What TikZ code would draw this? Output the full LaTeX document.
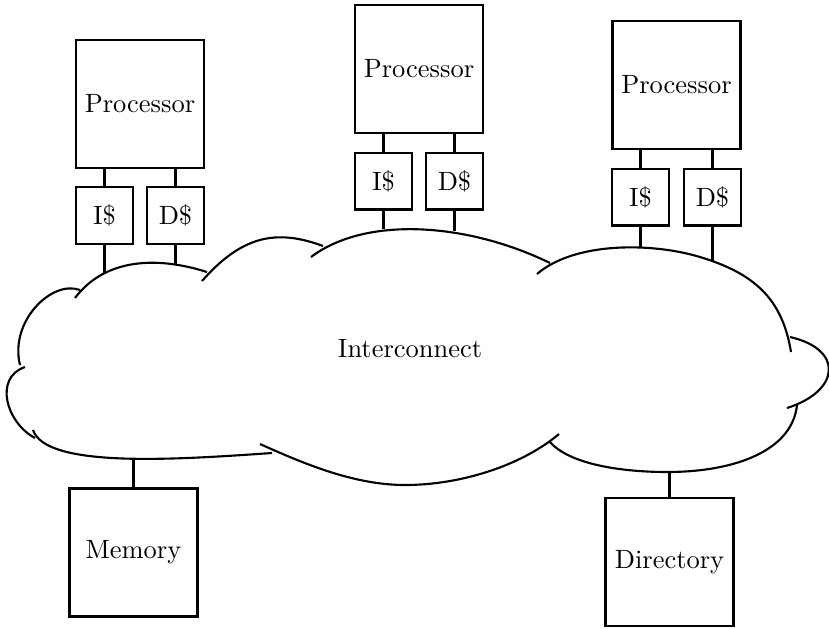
\documentclass[tikz,border=0pt]{standalone}
\begin{document}
\begin{tikzpicture}[x=0.378pt,y=-0.378pt,
  framebox/.style={draw, line width=0.8pt, inner sep=0pt, outer sep=0pt},
  bigbox/.style={framebox, minimum size=48.4pt},
  cachebox/.style={framebox, minimum size=21.5pt},
  link/.style={line width=0.8pt},
  puff/.style={line width=0.8pt}]
\useasboundingbox (0,0) rectangle (829,629);

% processors with their split L1 caches
\node[bigbox]   (P1) at (140,104)   {Processor};
\node[cachebox] (I1) at (104.5,215.5) {I\$};
\node[cachebox] (D1) at (175.5,215.5) {D\$};

\node[bigbox]   (P2) at (419,69)    {Processor};
\node[cachebox] (I2) at (383.5,181) {I\$};
\node[cachebox] (D2) at (454.5,181) {D\$};

\node[bigbox]   (P3) at (676.5,85)  {Processor};
\node[cachebox] (I3) at (640.5,197) {I\$};
\node[cachebox] (D3) at (712.5,197) {D\$};

% memory side
\node[bigbox] (M)   at (133.5,552.5) {Memory};
\node[bigbox] (Dir) at (669.5,562)   {Directory};

% interconnect cloud, drawn puff by puff (each puff slightly overlaps the next)
\node (net) at (410,349) {Interconnect};
\draw[puff] (75,298) .. controls (102,262) and (150,254) .. (207,272);
\draw[puff] (202,281) .. controls (241.6,236) and (276,228.5) .. (323,246);
\draw[puff] (311,257) .. controls (367,215) and (469,223.4) .. (550,263);
\draw[puff] (537,274) .. controls (575,241.5) and (652,242.5) .. (700,257)
                      .. controls (752.8,273) and (782.2,297.5) .. (791,352);
\draw[puff] (790,337) .. controls (844.3,349.3) and (840.2,391.2) .. (787,408);
\draw[puff] (797,405) .. controls (792.5,449.6) and (737,472) .. (667,472)
                      .. controls (622,472) and (569.8,464.5) .. (550,442);
\draw[puff] (559,434) .. controls (521,466) and (460,485) .. (405,485)
                      .. controls (355,485) and (305.5,464.5) .. (260,444);
\draw[puff] (272,453) .. controls (172,460) and (45.8,468) .. (33,430);
\draw[puff] (25,367) .. controls (-6.4,377.6) and (6,422.5) .. (35,438);
\draw[puff] (80,290) .. controls (51.8,279.5) and (9.2,321.4) .. (20,365);

% points where the links meet the cloud
\coordinate (nI1) at (104.5,273);
\coordinate (nD1) at (175.5,265);
\coordinate (nI2) at (383.5,229);
\coordinate (nD2) at (454.5,231);
\coordinate (nI3) at (640.5,247);
\coordinate (nD3) at (712.5,261);
\coordinate (nM)  at (133.5,459);
\coordinate (nDir) at (669.5,472);

% processor to cache links
\foreach \p/\c in {P1/I1, P1/D1, P2/I2, P2/D2, P3/I3, P3/D3}
  \draw[link] (\c.north) -- (\c.north |- \p.south);

% cache to interconnect links
\foreach \c in {I1, D1, I2, D2, I3, D3}
  \draw[link] (\c.south) -- (n\c);

\draw[link] (M.north) -- (nM);
\draw[link] (Dir.north) -- (nDir);
\end{tikzpicture}
\end{document}
